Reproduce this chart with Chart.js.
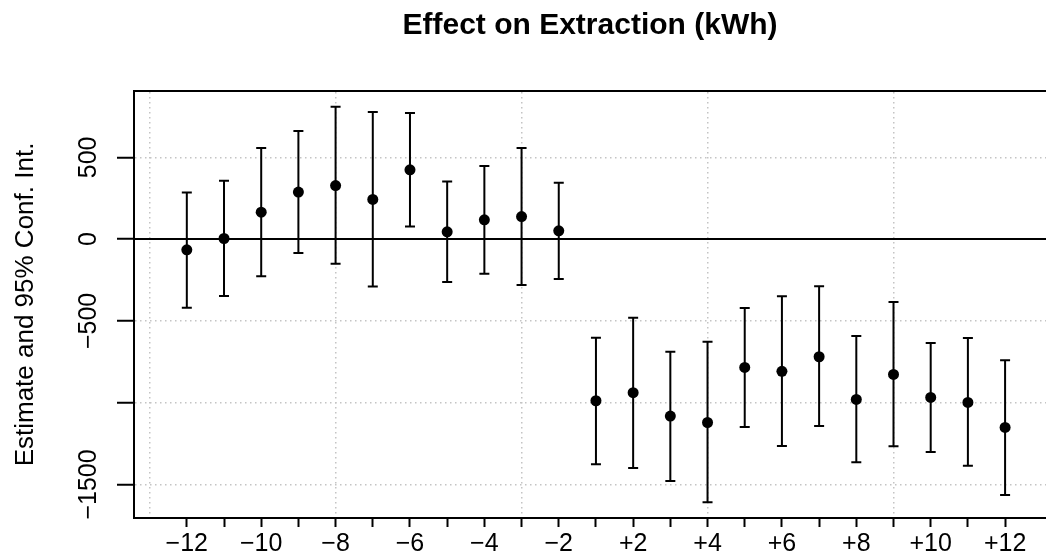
<!DOCTYPE html>
<html>
<head>
<meta charset="utf-8">
<script src="https://cdn.jsdelivr.net/npm/chart.js@4/dist/chart.umd.min.js"></script>
<style>
  html, body { margin: 0; padding: 0; background: #fff; overflow: hidden; }
</style>
</head>
<body>
<canvas id="chart" width="1046" height="552"></canvas>
<script>
// Event time categories (there is no -1 or 0 in the figure)
const categories = ['\u221212', '\u221211', '\u221210', '\u22129', '\u22128', '\u22127', '\u22126', '\u22125', '\u22124', '\u22123', '\u22122',
                    '+1', '+2', '+3', '+4', '+5', '+6', '+7', '+8', '+9', '+10', '+11', '+12'];

// Point estimates and 95% confidence bounds (kWh)
const estimate = [-65, 4, 165, 288, 328, 243, 424, 45, 118, 138, 51,
                  -988, -939, -1082, -1121, -784, -808, -719, -980, -827, -968, -998, -1151];
const upper = [285, 357, 557, 661, 810, 778, 771, 353, 447, 557, 345,
               -603, -480, -688, -627, -421, -349, -288, -592, -384, -635, -604, -741];
const lower = [-419, -347, -226, -84, -151, -290, 77, -262, -211, -280, -243,
               -1376, -1399, -1478, -1609, -1148, -1264, -1143, -1364, -1266, -1301, -1386, -1564];

// Axis ticks
const yTickValues = [-1500, -1000, -500, 0, 500];
const yTickLabels = ['\u22121500', '', '\u2212500', '0', '500'];
const xGridValues = [0, 5, 10, 15, 20];

const FONT = "'Liberation Sans', Arial, Helvetica, sans-serif";
const GRID = '#c4c4c4';
const X_MIN = -0.42, X_MAX = 24.1;
const Y_MIN = -1705, Y_MAX = 906;

// draws vertical error bars with caps
const errorBars = {
    id: 'errorBars',
    afterDatasetsDraw(chart) {
        const {ctx, scales: {x, y}} = chart;
        ctx.save();
        ctx.strokeStyle = '#000';
        ctx.lineWidth = 2;
        for (let i = 0; i < estimate.length; i++) {
            const px = x.getPixelForValue(i + 1);
            const top = y.getPixelForValue(upper[i]);
            const bot = y.getPixelForValue(lower[i]);
            ctx.beginPath();
            ctx.moveTo(px, top); ctx.lineTo(px, bot);
            ctx.moveTo(px - 5, top); ctx.lineTo(px + 5, top);
            ctx.moveTo(px - 5, bot); ctx.lineTo(px + 5, bot);
            ctx.stroke();
        }
        ctx.restore();
    }
};

// abline(h = 0)
const zeroLine = {
    id: 'zeroLine',
    beforeDatasetsDraw(chart) {
        const {ctx, chartArea, scales: {y}} = chart;
        const py = Math.round(y.getPixelForValue(0));
        ctx.save();
        ctx.strokeStyle = '#000';
        ctx.lineWidth = 2;
        ctx.beginPath();
        ctx.moveTo(chartArea.left, py);
        ctx.lineTo(chartArea.right, py);
        ctx.stroke();
        ctx.restore();
    }
};

// y tick labels and y title, rotated like R's default las = 0
const yText = {
    id: 'yText',
    afterDraw(chart) {
        const {ctx, chartArea, scales: {y}} = chart;
        ctx.save();
        ctx.fillStyle = '#000';
        ctx.textAlign = 'center';
        ctx.textBaseline = 'alphabetic';
        ctx.font = '25px ' + FONT;
        yTickValues.forEach((v, i) => {
            if (!yTickLabels[i]) return;
            ctx.save();
            ctx.translate(chartArea.left - 38, y.getPixelForValue(v));
            ctx.rotate(-Math.PI / 2);
            ctx.fillText(yTickLabels[i], 0, 0);
            ctx.restore();
        });
        ctx.font = '26px ' + FONT;
        ctx.translate(33, (chartArea.top + chartArea.bottom) / 2);
        ctx.rotate(-Math.PI / 2);
        ctx.fillText('Estimate and 95% Conf. Int.', 0, 0);
        ctx.restore();
    }
};

const noSidePadding = axis => { axis.paddingLeft = 0; axis.paddingRight = 0; };

new Chart(document.getElementById('chart'), {
    type: 'scatter',
    data: {
        datasets: [{
            data: estimate.map((v, i) => ({x: i + 1, y: v})),
            xAxisID: 'x',
            yAxisID: 'y',
            pointRadius: 5.5,
            pointHoverRadius: 5.5,
            backgroundColor: '#000',
            borderWidth: 0
        }]
    },
    options: {
        responsive: false,
        devicePixelRatio: 1,
        animation: false,
        layout: { padding: 0, autoPadding: false },
        plugins: {
            legend: { display: false },
            tooltip: { enabled: false },
            title: {
                display: true,
                fullSize: false,
                text: 'Effect on Extraction (kWh)',
                color: '#000',
                font: { family: FONT, size: 30, weight: 'bold', lineHeight: 1.2 },
                padding: { top: 8, bottom: 47 }
            }
        },
        scales: {
            x: {
                type: 'linear',
                position: 'bottom',
                min: X_MIN,
                max: X_MAX,
                afterBuildTicks: axis => { axis.ticks = categories.map((_, i) => ({value: i + 1})); },
                afterFit: axis => { axis.height = 34; noSidePadding(axis); },
                grid: { drawOnChartArea: false, drawTicks: true, tickLength: 9, tickColor: '#000', tickWidth: 2 },
                border: { display: true, color: '#000', width: 2 },
                ticks: {
                    autoSkip: false,
                    maxRotation: 0,
                    padding: 2,
                    color: '#000',
                    font: { family: FONT, size: 25 },
                    callback: (value, index) => index % 2 === 0 ? categories[index] : ''
                }
            },
            x2: {
                type: 'linear',
                position: 'top',
                min: X_MIN,
                max: X_MAX,
                afterBuildTicks: axis => { axis.ticks = xGridValues.map(v => ({value: v})); },
                afterFit: axis => { axis.height = 0; noSidePadding(axis); },
                grid: { color: GRID, lineWidth: 1.5, drawTicks: false },
                border: { display: true, color: '#000', width: 2, dash: [1.5, 3.5] },
                ticks: { display: false }
            },
            y: {
                type: 'linear',
                position: 'left',
                min: Y_MIN,
                max: Y_MAX,
                afterBuildTicks: axis => { axis.ticks = yTickValues.map(v => ({value: v})); },
                afterFit: axis => { axis.width = 134; },
                grid: { color: GRID, lineWidth: 1.5, drawTicks: true, tickLength: 17, tickColor: '#000', tickWidth: 2, tickBorderDash: [] },
                border: { display: true, color: '#000', width: 2, dash: [1.5, 3.5] },
                ticks: { display: false }
            }
        }
    },
    plugins: [zeroLine, errorBars, yText]
});
</script>
</body>
</html>
